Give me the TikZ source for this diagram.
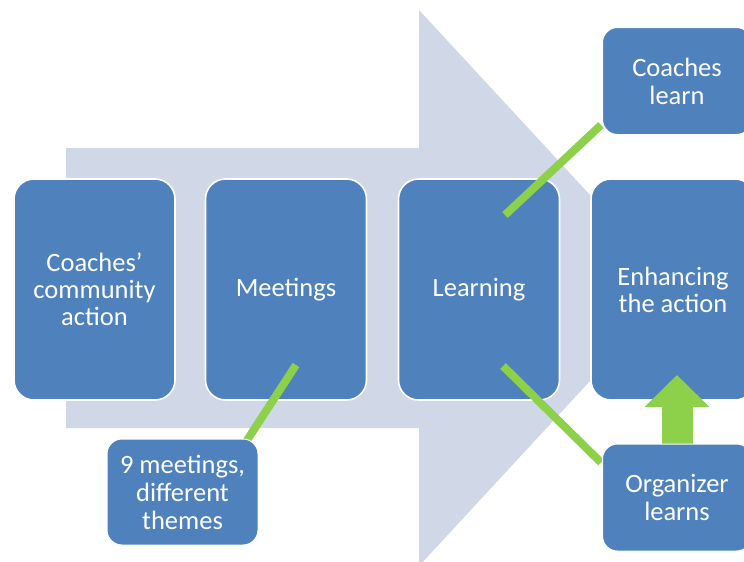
\documentclass[tikz,border=0pt]{standalone}
\usepackage{fontspec}
\setmainfont{Carlito}
\usetikzlibrary{arrows.meta,calc}
\definecolor{boxblue}{HTML}{4F81BD}
\definecolor{arrowgrey}{HTML}{D0D7E6}
\definecolor{lgreen}{HTML}{8DD04A}
\tikzset{
  bigbox/.style={rectangle, rounded corners=20pt, fill=boxblue, draw=white, line width=1.6pt,
    minimum width=161pt, minimum height=221pt, text=white, align=center, inner sep=2pt,
    font=\fontsize{26.5}{27}\selectfont},
  smallbox/.style={rectangle, rounded corners=15pt, fill=boxblue, draw=white, line width=1pt,
    minimum width=149pt, minimum height=107pt, text=white, align=center, inner sep=2pt,
    font=\fontsize{26.5}{28}\selectfont},
  link/.style={draw=lgreen, line width=8pt}
}
\begin{document}
\begin{tikzpicture}[x=1pt,y=-1pt]
\useasboundingbox (0,0) rectangle (744,562);
\clip (0,0) rectangle (744,562);
% big background arrow
\fill[arrowgrey] (66,148) -- (419,148) -- (419,10) -- (676,288) -- (419,566) -- (419,428) -- (66,428) -- cycle;
% main boxes
\node[bigbox] (b1) at (94.5,289.5) {Coaches’\\community\\action};
\node[bigbox] (b2) at (286,289.5) {Meetings};
\node[bigbox] (b3) at (479,289.5) {Learning};
\node[bigbox, minimum width=164pt] (b4) at (673,289.5) {Enhancing\\the action};
% side boxes positions
\coordinate (m1) at (296,365);
\coordinate (l1) at (505,215);
\coordinate (l2) at (503,366);
\coordinate (tipA) at (677,375);
\path (182.5,492) coordinate (nmc) (677,81) coordinate (clc) (677,497.5) coordinate (olc);
% green links
\draw[link] (m1) -- ($(nmc)+(64,-51)$);
\draw[link] (l1) -- ($(clc)+(-76,44)$);
\draw[link] (l2) -- ($(olc)+(-76,-35)$);
\draw[draw=lgreen, line width=31pt, -{Triangle[width=63pt,length=32pt]}] (olc) -- (tipA);
% side boxes
\node[smallbox, minimum width=151pt, minimum height=106pt] (nm) at (nmc) {9 meetings,\\different\\themes};
\node[smallbox] (cl) at (clc) {Coaches\\learn};
\node[smallbox] (ol) at (olc) {Organizer\\learns};
\end{tikzpicture}
\end{document}
